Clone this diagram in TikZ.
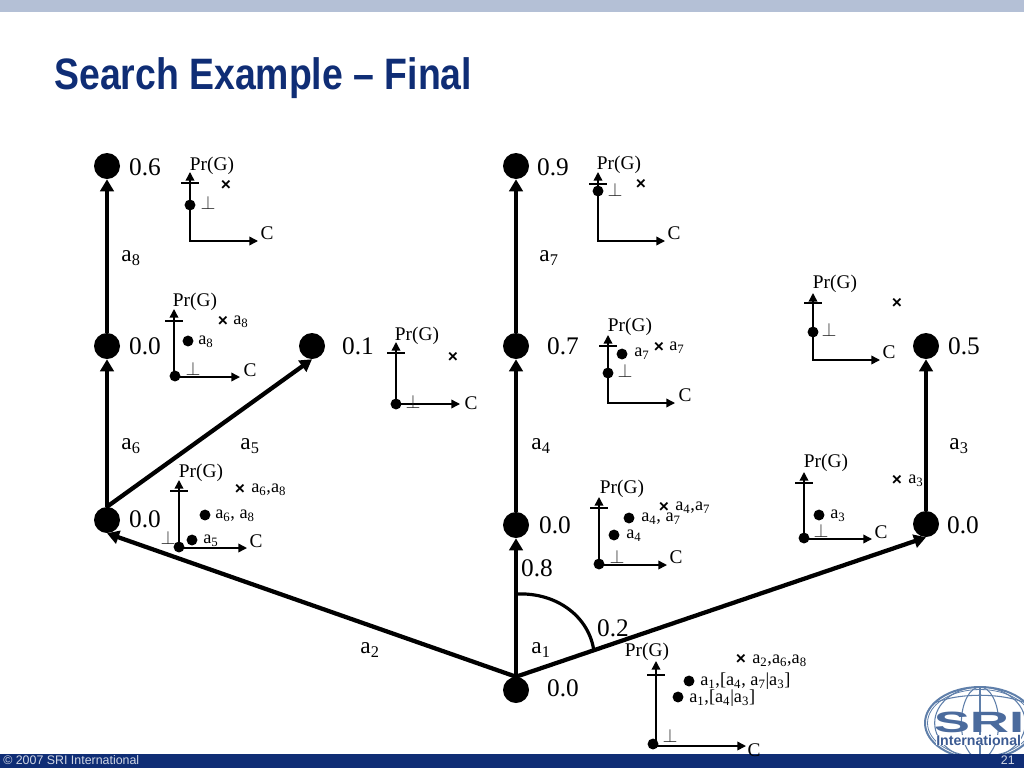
\documentclass[tikz,border=0pt]{standalone}
\usepackage{fontspec}
\setmainfont{Liberation Serif}
\newfontfamily\sansf{Liberation Sans}
\newfontfamily\titlef[FakeStretch=0.85]{Liberation Sans}
\newfontfamily\srif[FakeStretch=1.85]{Liberation Sans}
\usetikzlibrary{arrows.meta}
\definecolor{navy}{HTML}{0F2D75}
\definecolor{topbar}{HTML}{B4C0D6}
\definecolor{globe}{HTML}{5F7FAA}
\tikzset{
  x=0.75pt,y=-0.75pt,
  state/.style={circle,fill=black,inner sep=0,minimum size=19.5pt},
  edge/.style={line width=3.2pt,-{Triangle[length=9pt,width=10pt]}},
  axis/.style={line width=1.1pt,{Triangle[length=6.5pt,width=6.5pt]}-{Triangle[length=6.5pt,width=6.5pt]}},
  tick/.style={line width=.8pt},
  pt/.style={circle,fill=black,inner sep=0,minimum size=8.2pt},
  val/.style={font=\fontsize{19}{19}\selectfont,inner sep=0},
  act/.style={font=\fontsize{17.5}{17.5}\selectfont,inner sep=0},
  lab/.style={font=\fontsize{14.5}{14.5}\selectfont,inner sep=0},
  ptl/.style={font=\fontsize{13.7}{13.7}\selectfont,inner sep=0,anchor=west},
  cross/.style={font=\sansf\bfseries\fontsize{13}{13}\selectfont,inner sep=0},
  bot/.style={font=\fontsize{14}{14}\selectfont,inner sep=0,text=black!85,yshift=1pt},
}
\newcommand{\as}[1]{a\textsubscript{#1}}
% id, ox, oy, top, right, ticky, Pr x, Pr y, C x, C y
\newcommand{\chart}[9]{%
  \coordinate (#1o) at (#2,#3);
  \coordinate (#1t) at (#2,#4);
  \coordinate (#1r) at (#5,#3);
  \coordinate (#1a) at (#2-9,#6);
  \coordinate (#1b) at (#2+9,#6);
  \draw[axis] (#1t) -- (#1o) -- (#1r);
  \draw[tick] (#1a) -- (#1b);
  \node[lab,yshift=-1.1pt] (#1p) at (#7,#8) {Pr(G)};
  \node[lab] (#1c) at (#9) {C};
}
\begin{document}
\begin{tikzpicture}
\useasboundingbox (0,0) rectangle (1024,768);
\fill[white] (0,0) rectangle (1024,768);
\fill[topbar] (0,0) rectangle (1024,12);
\node[anchor=west,inner sep=0,text=navy,font=\titlef\bfseries\fontsize{33}{33}\selectfont] (title) at (54,78) {Search Example – Final};

% logo
\fill[white] (980,723) ellipse (55 and 36);
\begin{scope}
\clip (980,723) ellipse (55 and 36);
\foreach \r in {14,34}{\draw[globe,line width=.8pt] (980,723) ellipse (\r pt and 27pt);}
\draw[globe,line width=.8pt] (980,687) -- (980,760);
\draw[globe,line width=.8pt] (930,705) .. controls (955,692) and (1005,692) .. (1030,705);
\end{scope}
\draw[globe,line width=1.5pt] (980,723) ellipse (55 and 36);
\draw[globe,line width=.6pt] (980,723) ellipse (52.5 and 33.5);
\node[inner sep=0,text=globe!75!navy,font=\srif\bfseries\fontsize{22}{22}\selectfont] (srilogo) at (979,722.5) {SRI};
\node[anchor=west,inner sep=0,fill=white,text=globe!55!navy,font=\sansf\bfseries\fontsize{10.6}{10.6}\selectfont] (intl) at (936,740) {International};

\fill[navy] (0,754) rectangle (1024,768);
\node[anchor=west,inner sep=0,text=white!80!navy,font=\sansf\fontsize{9.3}{9.3}\selectfont] (copy) at (3,760.5) {© 2007 SRI International};
\node[anchor=east,inner sep=0,text=white!80!navy,font=\sansf\fontsize{9.3}{9.3}\selectfont] (pageno) at (1015,760.5) {21};

% tree
\node[state] (A) at (107,166) {};
\node[state] (B) at (107,346) {};
\node[state] (C) at (107,520) {};
\node[state] (D) at (312,346) {};
\node[state] (E) at (516,166) {};
\node[state] (F) at (516,346) {};
\node[state] (G) at (516,525) {};
\node[state] (R) at (516,690) {};
\node[state] (H) at (926,346) {};
\node[state] (I) at (926,524) {};
\draw[edge] (R) -- (G);
\draw[edge] (G) -- (F);
\draw[edge] (F) -- (E);
\draw[edge] (C) -- (B);
\draw[edge] (B) -- (A);
\draw[edge] (C.north) -- (D.south);
\draw[edge] (R.north) -- (C.south);
\draw[edge] (R.north) -- (I.south);
\draw[edge] (I) -- (H);
\coordinate (arcs) at (516,594);
\coordinate (arce) at (594,652);
\draw[line width=2.4pt] (arcs) .. controls (558,592) and (590,618) .. (arce);

\node[val] (v1) at (145,167) {0.6};
\node[val] (v2) at (145,346) {0.0};
\node[val] (v3) at (358,346) {0.1};
\node[val] (v4) at (145,519) {0.0};
\node[val] (v5) at (553,167) {0.9};
\node[val] (v6) at (563,346) {0.7};
\node[val] (v7) at (555,525) {0.0};
\node[val] (v8) at (964,346) {0.5};
\node[val] (v9) at (963,525) {0.0};
\node[val] (v10) at (563,688) {0.0};
\node[val] (v11) at (537,568) {0.8};
\node[val] (v12) at (613,628) {0.2};
\node[act] (a8) at (131,258) {\as{8}};
\node[act] (a7) at (549,258) {\as{7}};
\node[act] (a6) at (131,446) {\as{6}};
\node[act] (a5) at (250,446) {\as{5}};
\node[act] (a4) at (541,446) {\as{4}};
\node[act] (a3) at (959,446) {\as{3}};
\node[act] (a2) at (370,650) {\as{2}};
\node[act] (a1) at (541,650) {\as{1}};

% chart 1
\chart{c1}{190}{241}{172}{258}{183}{212}{164}{267,233}
\node[pt] (c1d) at (190,205) {};
\node[bot] (c1u) at (208,204) {$\perp$};
\node[cross] (c1x) at (226,185) {×};
% chart 2
\chart{c2}{174}{377}{309}{240}{321}{195}{300}{250,370}
\node[pt] (c2o2) at (175,376) {};
\node[pt] (c2d) at (188,341) {};
\node[ptl] (c2dl) at (198,342) {\as{8}};
\node[bot] (c2u) at (193,370) {$\perp$};
\node[cross] (c2x) at (223,321) {×};
\node[ptl] (c2xl) at (233,322) {\as{8}};
% chart 3
\chart{c3}{396}{404}{342}{460}{353}{417}{334}{471,403}
\node[pt] (c3d) at (396,404) {};
\node[bot] (c3u) at (413,403) {$\perp$};
\node[cross] (c3x) at (453,357) {×};
% chart 4
\chart{c4}{179}{548}{480}{247}{491}{201}{471}{256,541}
\node[pt] (c4o2) at (179,547) {};
\node[pt] (c4d) at (205,515) {};
\node[ptl] (c4dl) at (215,516) {\as{6}, \as{8}};
\node[pt] (c4e) at (192,540) {};
\node[ptl] (c4el) at (203,541) {\as{5}};
\node[bot] (c4u) at (168,539) {$\perp$};
\node[cross] (c4x) at (240,489) {×};
\node[ptl] (c4xl) at (251,490) {\as{6},\as{8}};
% chart 5
\chart{c5}{598}{241}{172}{665}{184}{619}{163}{674,233}
\node[pt] (c5d) at (598,191) {};
\node[bot] (c5u) at (615,191) {$\perp$};
\node[cross] (c5x) at (641,184) {×};
% chart 6
\chart{c6}{608}{403}{335}{675}{346}{630}{325}{685,395}
\node[pt] (c6d) at (608,373) {};
\node[pt] (c6e) at (622,354) {};
\node[ptl] (c6el) at (634,354) {\as{7}};
\node[bot] (c6u) at (625,372) {$\perp$};
\node[cross] (c6x) at (659,347) {×};
\node[ptl] (c6xl) at (669,348) {\as{7}};
% chart 7
\chart{c7}{813}{360}{293}{880}{303}{835}{282}{889,352}
\node[pt] (c7d) at (813,332) {};
\node[bot] (c7u) at (829,331) {$\perp$};
\node[cross] (c7x) at (897,303) {×};
% chart 8
\chart{c8}{599}{565}{497}{667}{508}{622}{487}{676,557}
\node[pt] (c8o2) at (599,564) {};
\node[pt] (c8d) at (629,518) {};
\node[ptl] (c8dl) at (641,519) {\as{4}, \as{7}};
\node[pt] (c8e) at (614,535) {};
\node[ptl] (c8el) at (626,536) {\as{4}};
\node[bot] (c8u) at (617,558) {$\perp$};
\node[cross] (c8x) at (664,507) {×};
\node[ptl] (c8xl) at (675,508) {\as{4},\as{7}};
% chart 9
\chart{c9}{804}{539}{472}{872}{483}{826}{461}{881,532}
\node[pt] (c9o2) at (804,538) {};
\node[pt] (c9d) at (819,515) {};
\node[ptl] (c9dl) at (830,516) {\as{3}};
\node[bot] (c9u) at (821,532) {$\perp$};
\node[cross] (c9x) at (897,480) {×};
\node[ptl] (c9xl) at (908,481) {\as{3}};
% chart 10
\chart{c10}{656}{746}{661}{746}{675}{647}{650}{754,750}
\node[pt] (c10o2) at (653,744) {};
\node[pt] (c10d) at (689,681) {};
\node[ptl] (c10dl) at (700,681) {\as{1},[\as{4}, \as{7}|\as{3}]};
\node[pt] (c10e) at (678,697) {};
\node[ptl] (c10el) at (689,698) {\as{1},[\as{4}|\as{3}]};
\node[bot] (c10u) at (670,737) {$\perp$};
\node[cross] (c10x) at (741,659) {×};
\node[ptl] (c10xl) at (752,661) {\as{2},\as{6},\as{8}};
\end{tikzpicture}
\end{document}
